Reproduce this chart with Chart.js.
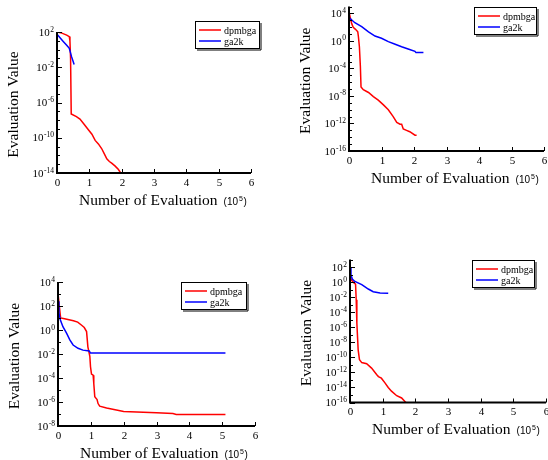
<!DOCTYPE html>
<html>
<head>
<title>Evaluation curves</title>
<script src="https://cdn.jsdelivr.net/npm/chart.js"></script>
<style>
  body { margin: 0; background: #fff; }
  #wrap { position: relative; width: 548px; height: 460px; }
  canvas { position: absolute; }
</style>
</head>
<body>
<div id="wrap">
  <canvas id="c1" width="274" height="230" style="left:0;top:0"></canvas>
  <canvas id="c2" width="274" height="230" style="left:274px;top:0"></canvas>
  <canvas id="c3" width="274" height="230" style="left:0;top:230px"></canvas>
  <canvas id="c4" width="274" height="230" style="left:274px;top:230px"></canvas>
</div>
<script>
// series names and x ticks (units of 10^5 evaluations)
const seriesNames = ['dpmbga', 'ga2k'];
const xTickValues = [0, 1, 2, 3, 4, 5, 6];

// panel 1 (top left)
const p1RedX = [0, 0.15, 0.3, 0.38, 0.4, 0.42, 0.44, 0.6, 0.71, 0.85, 0.97, 1.08, 1.18, 1.28, 1.38, 1.46, 1.54, 1.62, 1.69, 1.8, 1.9, 1.97, 2.18];
const p1RedY = [100, 75, 45, 30, 10, 0.1, 5e-8, 2.5e-8, 1.3e-8, 3e-9, 8e-10, 2.5e-10, 5e-11, 2e-11, 6e-12, 1.6e-12, 4e-13, 2e-13, 1.3e-13, 6e-14, 2.5e-14, 1e-14, 1e-14];
const p1BlueX = [0, 0.1, 0.2, 0.3, 0.38, 0.45, 0.53];
const p1BlueY = [56, 21, 8, 3.1, 1.4, 0.16, 0.02];
const p1YLabels = [2, -2, -6, -10, -14];   // exponents of 10

// panel 2 (top right)
const p2RedX = [0, 0.08, 0.13, 0.2, 0.27, 0.29, 0.32, 0.35, 0.37, 0.44, 0.6, 0.75, 0.9, 1.06, 1.21, 1.36, 1.47, 1.57, 1.62, 1.67, 1.77, 1.87, 2.03, 2.08];
const p2RedY = [1.6e4, 350, 93, 48, 21, 4, 0.14, 2e-4, 2e-7, 8e-8, 3.2e-8, 8e-9, 2.5e-9, 5e-10, 1e-10, 1e-11, 1.4e-12, 8e-13, 8e-13, 1.6e-13, 1e-13, 6.3e-14, 2e-14, 2e-14];
const p2BlueX = [0, 0.18, 0.39, 0.6, 0.8, 1.0, 1.21, 1.42, 1.62, 1.82, 2.03, 2.06, 2.29];
const p2BlueY = [2500, 440, 115, 21, 5.1, 2.4, 0.78, 0.32, 0.14, 0.068, 0.03, 0.02, 0.02];
const p2YLabels = [4, 0, -4, -8, -12, -16];

// panel 3 (bottom left)
const p3RedX = [0, 0.04, 0.08, 0.2, 0.47, 0.6, 0.72, 0.8, 0.87, 0.91, 0.97, 0.99, 1.02, 1.07, 1.09, 1.12, 1.19, 1.22, 1.27, 1.48, 2.0, 3.0, 3.5, 3.6, 5.1];
const p3RedY = [1150, 100, 10, 8.5, 5.9, 4.5, 2.5, 1.6, 0.74, 0.04, 0.0063, 8.7e-4, 2.1e-4, 1.7e-4, 3.5e-5, 2.7e-6, 1.6e-6, 7.4e-7, 4.5e-7, 3.2e-7, 1.6e-7, 1.26e-7, 1.1e-7, 9e-8, 9e-8];
const p3BlueX = [0, 0.03, 0.07, 0.15, 0.26, 0.36, 0.46, 0.61, 0.76, 0.95, 0.99, 5.1];
const p3BlueY = [250, 25, 7, 1.9, 0.54, 0.15, 0.056, 0.03, 0.021, 0.018, 0.012, 0.012];
const p3YLabels = [4, 2, 0, -2, -4, -6, -8];

// panel 4 (bottom right)
const p4RedX = [0, 0.01, 0.05, 0.13, 0.17, 0.19, 0.21, 0.25, 0.29, 0.36, 0.51, 0.66, 0.82, 0.87, 0.96, 1.07, 1.17, 1.27, 1.43, 1.58, 1.73, 1.8];
const p4RedY = [44, 5.6, 1.7, 0.74, 0.55, 4.5e-3, 3.5e-6, 1e-9, 5e-11, 2e-11, 1.4e-11, 3.7e-12, 5e-13, 2.8e-13, 1.7e-13, 4e-14, 1e-14, 3.2e-15, 8e-16, 4e-16, 8e-17, 5e-17];
const p4BlueX = [0, 0.03, 0.07, 0.15, 0.36, 0.56, 0.71, 0.92, 1.17];
const p4BlueY = [74, 9.5, 2.5, 1.2, 0.45, 0.12, 0.052, 0.035, 0.032];
const p4YLabels = [2, 0, -2, -4, -6, -8, -10, -12, -14, -16];

const SERIF = '"Liberation Serif", "Times New Roman", serif';
const SANS = '"Liberation Sans", Arial, sans-serif';

// axes, inward ticks, superscript labels, titles and boxed legend
const axesDeco = {
  id: 'axesDeco',
  afterDraw(chart, args, o) {
    const ctx = chart.ctx, a = chart.chartArea;
    const xs = chart.scales.x, ys = chart.scales.y;
    ctx.save();
    ctx.strokeStyle = '#000';
    ctx.fillStyle = '#000';

    // axis lines
    ctx.lineWidth = 2;
    ctx.beginPath();
    ctx.moveTo(a.left, a.top);
    ctx.lineTo(a.left, a.bottom);
    ctx.lineTo(a.right, a.bottom);
    ctx.stroke();

    // y ticks at every decade, labels on some
    ctx.lineWidth = 1;
    for (let e = o.yMin; e <= o.yMax; e++) {
      const y = Math.round(ys.getPixelForValue(Math.pow(10, e))) + 0.5;
      const major = o.yLabels.includes(e);
      ctx.beginPath();
      ctx.moveTo(a.left, y);
      ctx.lineTo(a.left + (major ? 5 : 3), y);
      ctx.stroke();
    }
    o.yLabels.forEach(e => {
      const y = ys.getPixelForValue(Math.pow(10, e));
      const ex = String(e);
      ctx.font = '11px ' + SERIF;
      const wb = ctx.measureText('10').width;
      ctx.font = '7.5px ' + SERIF;
      const we = ctx.measureText(ex).width;
      const x0 = a.left - 3 - we - wb - 0.5;
      ctx.textAlign = 'left';
      ctx.textBaseline = 'alphabetic';
      ctx.font = '11px ' + SERIF;
      ctx.fillText('10', x0, y + 3.7);
      ctx.font = '7.5px ' + SERIF;
      ctx.fillText(ex, x0 + wb + 0.5, y - 0.5);
    });

    // x ticks
    ctx.font = '11px ' + SERIF;
    ctx.textAlign = 'center';
    xTickValues.forEach(v => {
      const x = Math.round(xs.getPixelForValue(v)) + 0.5;
      ctx.beginPath();
      ctx.moveTo(x, a.bottom);
      ctx.lineTo(x, a.bottom - 4);
      ctx.stroke();
      ctx.fillText(String(v), x, a.bottom + 12.5);
    });

    // x title with (10^5)
    const bl = a.bottom + 31.5;
    let px = a.left + 22;
    ctx.textAlign = 'left';
    ctx.font = '15.5px ' + SERIF;
    ctx.fillText('Number of Evaluation', px, bl);
    px += ctx.measureText('Number of Evaluation').width + 6;
    ctx.font = '10px ' + SANS;
    ctx.fillText('(10', px, bl);
    px += ctx.measureText('(10').width + 1;
    ctx.font = '7px ' + SANS;
    ctx.fillText('5', px, bl - 4);
    px += ctx.measureText('5').width + 0.5;
    ctx.font = '10px ' + SANS;
    ctx.fillText(')', px, bl);

    // y title
    ctx.save();
    ctx.translate(a.left - 43, (a.top + a.bottom) / 2 + 2);
    ctx.rotate(-Math.PI / 2);
    ctx.textAlign = 'center';
    ctx.textBaseline = 'middle';
    ctx.font = '15.5px ' + SERIF;
    ctx.fillText('Evaluation Value', 0, 0);
    ctx.restore();

    // legend
    const L = o.legend;
    ctx.fillStyle = '#fff';
    ctx.fillRect(L.x, L.y, L.w, L.h);
    ctx.strokeStyle = '#000';
    ctx.lineWidth = 1;
    ctx.strokeRect(L.x + 0.5, L.y + 0.5, L.w, L.h);
    ctx.beginPath();
    ctx.moveTo(L.x + L.w + 2, L.y + 2);
    ctx.lineTo(L.x + L.w + 2, L.y + L.h + 2);
    ctx.lineTo(L.x + 2, L.y + L.h + 2);
    ctx.stroke();
    ctx.font = '10px ' + SERIF;
    ctx.textAlign = 'left';
    ctx.textBaseline = 'alphabetic';
    chart.data.datasets.forEach((ds, i) => {
      const y = L.y + (i === 0 ? 9 : 20);
      ctx.strokeStyle = ds.borderColor;
      ctx.lineWidth = 1.5;
      ctx.beginPath();
      ctx.moveTo(L.x + 4, y);
      ctx.lineTo(L.x + 26, y);
      ctx.stroke();
      ctx.fillStyle = '#000';
      ctx.fillText(ds.label, L.x + 29, y + 3.5);
    });
    ctx.restore();
  }
};

function pts(xv, yv) {
  return xv.map((x, i) => ({ x: x, y: yv[i] }));
}

function makePanel(id, pad, yMin, yMax, yLabels, redX, redY, blueX, blueY, legend) {
  return new Chart(document.getElementById(id), {
    type: 'line',
    data: {
      datasets: [
        { label: seriesNames[0], data: pts(redX, redY), borderColor: '#ff0000', borderWidth: 1.5, pointRadius: 0, fill: false, order: 1 },
        { label: seriesNames[1], data: pts(blueX, blueY), borderColor: '#0000ff', borderWidth: 1.5, pointRadius: 0, fill: false, order: 0 }
      ]
    },
    options: {
      responsive: false,
      animation: false,
      layout: { padding: pad },
      scales: {
        x: { type: 'linear', min: 0, max: 6, display: false },
        y: { type: 'logarithmic', min: Math.pow(10, yMin), max: Math.pow(10, yMax), display: false }
      },
      plugins: {
        legend: { display: false },
        tooltip: { enabled: false },
        axesDeco: { yMin: yMin, yMax: yMax, yLabels: yLabels, legend: legend }
      }
    },
    plugins: [axesDeco]
  });
}

makePanel('c1', { left: 57, right: 23, top: 32, bottom: 57 }, -14, 2, p1YLabels,
  p1RedX, p1RedY, p1BlueX, p1BlueY, { x: 195, y: 21, w: 64, h: 27 });
makePanel('c2', { left: 75, right: 4, top: 6.5, bottom: 79 }, -16, 5, p2YLabels,
  p2RedX, p2RedY, p2BlueX, p2BlueY, { x: 200, y: 7, w: 62, h: 27 });
makePanel('c3', { left: 58, right: 19, top: 52, bottom: 34 }, -8, 4, p3YLabels,
  p3RedX, p3RedY, p3BlueX, p3BlueY, { x: 181, y: 52, w: 65, h: 27 });
makePanel('c4', { left: 76, right: 2, top: 29.5, bottom: 57.5 }, -16, 3, p4YLabels,
  p4RedX, p4RedY, p4BlueX, p4BlueY, { x: 198, y: 30, w: 62, h: 27 });
</script>
</body>
</html>
